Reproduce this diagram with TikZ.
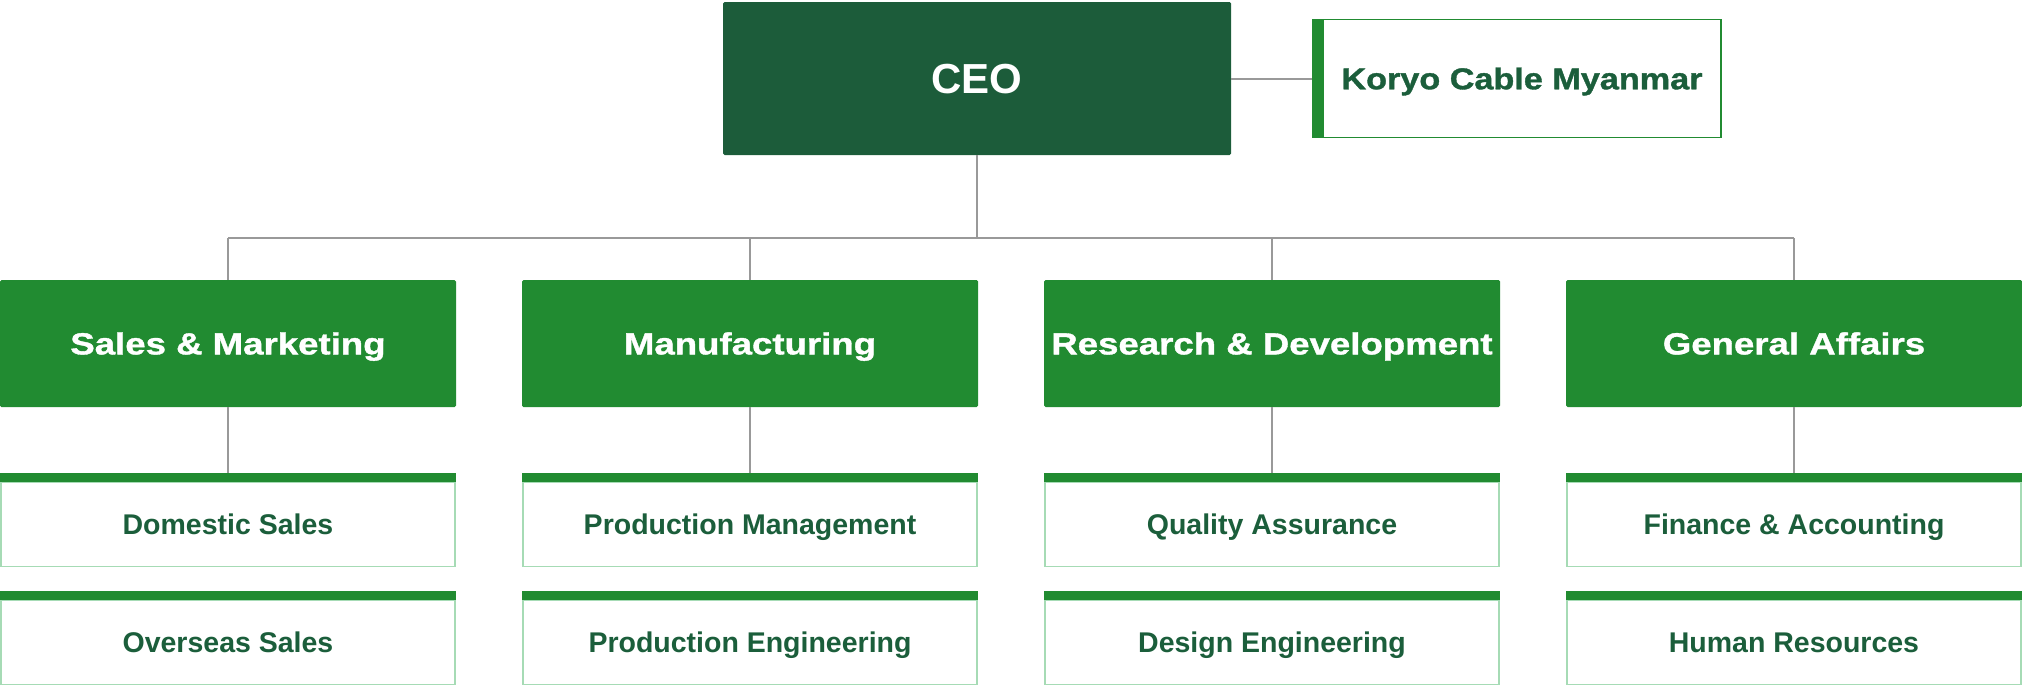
\documentclass[tikz,border=0pt]{standalone}
\usepackage{fontspec}
\setmainfont{Liberation Sans}
\newfontfamily\widefont{Liberation Sans}[FakeStretch=1.2, FakeBold=1.2]
\newfontfamily\koryofont{Liberation Sans}[FakeStretch=1.14, FakeBold=1.2]
\definecolor{ceogreen}{HTML}{1C5C3A}
\definecolor{deptgreen}{HTML}{218B31}
\definecolor{textgreen}{HTML}{1B5E3B}
\definecolor{palegreen}{HTML}{A6DBB5}
\definecolor{conngray}{HTML}{999999}
\tikzset{
  ceobox/.style={rectangle, rounded corners=1.5pt, fill=ceogreen, draw=none, inner sep=0pt,
    minimum width=508pt, minimum height=153pt, text=white,
    text height=30pt, text depth=0pt,
    font=\fontsize{42}{48}\selectfont\bfseries},
  sidebox/.style={rectangle, draw=deptgreen, line width=1.5pt, fill=white, inner sep=0pt,
    minimum width=398pt, minimum height=118pt, text=textgreen,
    text height=21.5pt, text depth=0pt,
    font=\koryofont\fontsize{30}{36}\selectfont\bfseries},
  sidebar/.style={rectangle, fill=deptgreen, draw=none, inner sep=0pt,
    minimum width=10pt, minimum height=119.5pt},
  deptbox/.style={rectangle, rounded corners=1.5pt, fill=deptgreen, draw=none, inner sep=0pt,
    minimum width=456pt, minimum height=127pt, text=white,
    text height=21.8pt, text depth=0pt,
    font=\widefont\fontsize{30.5}{36}\selectfont\bfseries},
  unitbox/.style={rectangle, draw=palegreen, line width=1.5pt, fill=white, inner sep=0pt,
    minimum width=454pt, minimum height=84pt, text=textgreen,
    text height=20.4pt, text depth=0pt,
    font=\fontsize{28.5}{34}\selectfont\bfseries},
  unitbar/.style={rectangle, fill=deptgreen, draw=none, inner sep=0pt,
    minimum width=456pt, minimum height=8.7pt},
  conn/.style={draw=conngray, line width=2pt}
}
\begin{document}
\begin{tikzpicture}[x=1pt, y=-1pt]
\useasboundingbox (0,0) rectangle (2022,686);

% CEO and affiliate
\node[ceobox] (ceo) at (977,78.5) {CEO};
\node[sidebox] (kcm) at (1522,78.5) {Koryo Cable Myanmar};
\node[sidebar, anchor=east] (kcmbar) at (kcm.west) {};

% departments
\node[deptbox] (sm) at (228,343.5) {Sales \& Marketing};
\node[deptbox] (mf) at (750,343.5) {Manufacturing};
\node[deptbox] (rd) at (1272,343.5) {Research \& Development};
\node[deptbox] (ga) at (1794,343.5) {General Affairs};

% units
\foreach \n/\x/\ta/\tb in {sm/228/Domestic Sales/Overseas Sales,
                          mf/750/Production Management/Production Engineering,
                          rd/1272/Quality Assurance/Design Engineering,
                          ga/1794/Finance \& Accounting/Human Resources}{
  \node[unitbox] (\n a) at (\x,524.5) {\ta};
  \node[unitbar, anchor=south] (\n abar) at (\n a.north) {};
  \node[unitbox] (\n b) at (\x,642.5) {\tb};
  \node[unitbar, anchor=south] (\n bbar) at (\n b.north) {};
}

% connectors
\coordinate (busL) at (228,238.3);
\coordinate (busR) at (1794,238.3);
\draw[conn] (busL) -- (busR);
\draw[conn] (ceo.south) -- (ceo.south |- busL);
\draw[conn] (ceo.east) -- (kcmbar.west);
\foreach \n in {sm,mf,rd,ga}{
  \draw[conn] (\n.north) -- (\n.north |- busL);
  \draw[conn] (\n.south) -- (\n abar.north);
}
\end{tikzpicture}
\end{document}
